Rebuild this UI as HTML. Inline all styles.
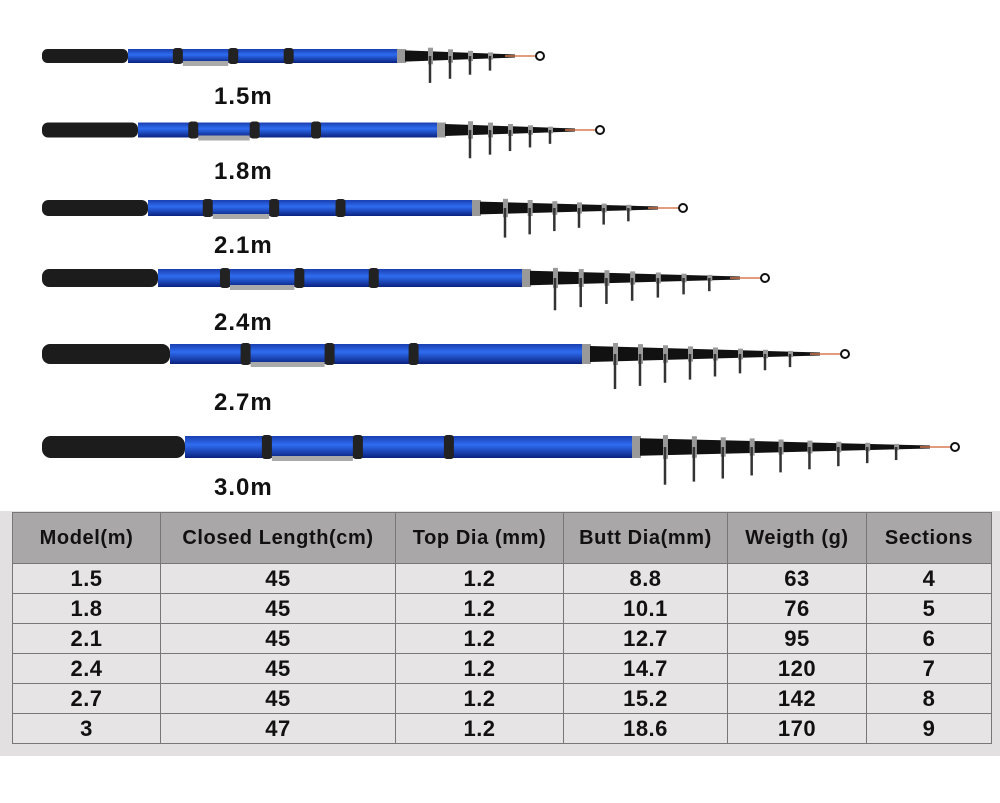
<!DOCTYPE html>
<html><head><meta charset="utf-8"><style>
body{margin:0;width:1000px;height:803px;background:#fff;position:relative;overflow:hidden;font-family:"Liberation Sans",Arial,sans-serif}
#rods{position:absolute;left:0;top:0}
.lbl{position:absolute;font-weight:bold;font-size:24px;color:#111;letter-spacing:1px}
#tb{position:absolute;left:0;top:511px;width:1000px;height:245px;background:#e2e0e0}
table{position:absolute;left:12px;top:512px;border-collapse:collapse;font-weight:bold;color:#111}
td,th{border:1.5px solid #777;text-align:center;padding:0;height:29px;font-size:22px}
th{background:#a9a7a7;height:50px;font-size:20px;white-space:nowrap;letter-spacing:0.6px}
td{background:#e6e4e4;letter-spacing:0.5px}
</style></head><body>
<svg id="rods" width="1000" height="511" viewBox="0 0 1000 511"></svg>
<div class="lbl" style="left:214px;top:83px">1.5m</div>
<div class="lbl" style="left:214px;top:158px">1.8m</div>
<div class="lbl" style="left:214px;top:232px">2.1m</div>
<div class="lbl" style="left:214px;top:309px">2.4m</div>
<div class="lbl" style="left:214px;top:389px">2.7m</div>
<div class="lbl" style="left:214px;top:474px">3.0m</div>
<div id="tb"></div>
<table>
<tr><th style="width:147px">Model(m)</th><th style="width:234px">Closed Length(cm)</th><th style="width:167px">Top Dia (mm)</th><th style="width:163px">Butt Dia(mm)</th><th style="width:138px">Weigth (g)</th><th style="width:124px">Sections</th></tr>
<tr><td>1.5</td><td>45</td><td>1.2</td><td>8.8</td><td>63</td><td>4</td></tr>
<tr><td>1.8</td><td>45</td><td>1.2</td><td>10.1</td><td>76</td><td>5</td></tr>
<tr><td>2.1</td><td>45</td><td>1.2</td><td>12.7</td><td>95</td><td>6</td></tr>
<tr><td>2.4</td><td>45</td><td>1.2</td><td>14.7</td><td>120</td><td>7</td></tr>
<tr><td>2.7</td><td>45</td><td>1.2</td><td>15.2</td><td>142</td><td>8</td></tr>
<tr><td>3</td><td>47</td><td>1.2</td><td>18.6</td><td>170</td><td>9</td></tr>
</table>
<script>
var rods=[[56,128,405,545,14,4],[130,138,445,605,15,5],[208,148,480,688,16,6],[278,158,530,770,18,7],[354,170,590,850,20,8],[447,185,640,960,22,9]];
var s='<defs><linearGradient id="bl" x1="0" y1="0" x2="0" y2="1"><stop offset="0" stop-color="#1a3fb0"/><stop offset="0.4" stop-color="#2f6cf0"/><stop offset="1" stop-color="#0a2280"/></linearGradient></defs>';
rods.forEach(function(r){
 var y=r[0],h=r[4],x1=r[1],x2=r[2],x3=r[3],n=r[5];
 s+='<rect x="42" y="'+(y-h/2)+'" width="'+(x1-42)+'" height="'+h+'" rx="'+(h/2.5)+'" fill="#1c1c1c"/>';
 s+='<rect x="'+x1+'" y="'+(y-h/2)+'" width="'+(x2-x1)+'" height="'+h+'" fill="url(#bl)"/>';
 s+='<rect x="'+(x2-8)+'" y="'+(y-h/2)+'" width="9" height="'+h+'" fill="#999"/>';
 var b1=x1+(x2-x1)*0.18,b2=b1+(x2-x1)*0.2,b3=b2+(x2-x1)*0.2;
 [b1,b2,b3].forEach(function(b){s+='<rect x="'+(b-5)+'" y="'+(y-h/2-1)+'" width="10" height="'+(h+2)+'" rx="3" fill="#222"/>';});
 s+='<rect x="'+(b1+5)+'" y="'+(y+h/2-2)+'" width="'+(b2-b1-10)+'" height="5" fill="#aaa"/>';
 var tl=x3-x2;
 s+='<polygon points="'+x2+','+(y-h*0.4)+' '+(x3-30)+','+(y-1.5)+' '+(x3-30)+','+(y+1.5)+' '+x2+','+(y+h*0.4)+'" fill="#111"/>';
 s+='<line x1="'+(x3-40)+'" y1="'+y+'" x2="'+(x3-8)+'" y2="'+y+'" stroke="#d87a50" stroke-width="1.5"/>';
 s+='<circle cx="'+(x3-5)+'" cy="'+y+'" r="4" fill="none" stroke="#111" stroke-width="2"/>';
 for(var i=0;i<n;i++){
  var gx=x2+25+i*(tl-60)/n, gh=(h*0.9)*(1-i/(n+1))+6;
  var th=h*0.45*(1-i/n)+2;
  s+='<rect x="'+(gx-2)+'" y="'+(y-th)+'" width="5" height="'+(2*th)+'" fill="#999"/>';
  s+='<line x1="'+gx+'" y1="'+y+'" x2="'+gx+'" y2="'+(y+th+gh)+'" stroke="#333" stroke-width="2.5"/>';
 }
});
document.getElementById('rods').innerHTML=s;
</script>
</body></html>
